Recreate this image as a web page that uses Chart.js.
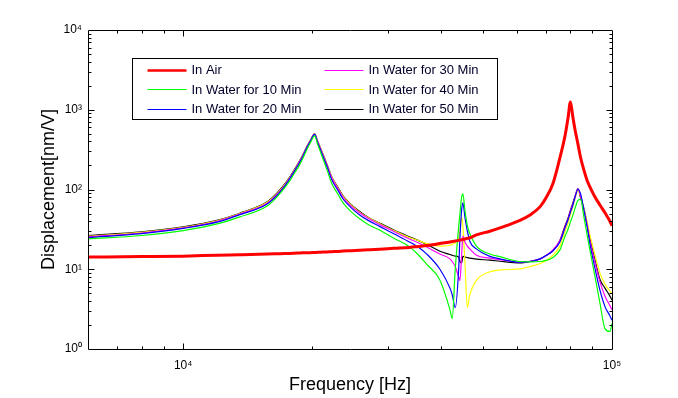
<!DOCTYPE html>
<html><head><meta charset="utf-8">
<script src="https://cdn.jsdelivr.net/npm/chart.js@4.4.0/dist/chart.umd.min.js"></script>
<style>html,body{margin:0;padding:0;background:#fff;}#wrap{width:678px;height:398px;}</style>
</head><body><div id="wrap"><canvas id="c" width="678" height="398"></canvas></div>
<script>
const freq = [6000, 8000, 10000, 12000, 13500, 15700, 16600, 17200, 17700, 18200,
  18700, 19000, 19400, 19800, 20250, 20600, 21200, 21700, 22200, 23000,
  23600, 24700, 25800, 27000, 28700, 31000, 33700, 35300, 37000, 39700,
  41900, 42400, 43100, 43900, 44200, 44600, 44900, 45400, 46000, 46600,
  48300, 51900, 54800, 61000, 64400, 68000, 70400, 72800, 75600, 77700,
  79000, 80000, 81000, 82000, 83300, 84500, 86000, 87500, 88800, 91000,
  93700, 96300, 98900, 100000];

const inAir = [14.2, 14.4, 14.6, 15.0, 15.2, 15.5, 15.65, 15.75, 15.8, 15.9,
  16.0, 16.05, 16.1, 16.15, 16.2, 16.3, 16.4, 16.5, 16.6, 16.75,
  16.9, 17.1, 17.3, 17.5, 17.8, 18.3, 18.8, 19.3, 19.8, 21.0,
  22.0, 22.3, 22.6, 23.0, 23.2, 23.4, 23.6, 24.0, 24.4, 24.8,
  27, 30, 33, 41, 48, 61, 81, 118, 250, 470,
  800, 1250, 830, 560, 370, 250, 175, 130, 108, 83,
  64, 51, 40, 35];

const water10 = [24, 26.5, 30.5, 37, 45, 62, 82, 103, 127, 162,
  205, 243, 310, 385, 470, 365, 240, 170, 120, 86,
  68, 52, 43, 36.5, 31, 24.5, 19.2, 15.3, 11.5, 7.3,
  3.1, 2.4, 10, 34, 50, 80, 88, 55, 35, 28,
  19.5, 15.5, 14.4, 12.5, 12.4, 12.5, 13, 14, 17.5, 26,
  32, 39, 47, 58, 73, 75, 45, 27, 17.5, 8.8,
  3.8, 1.8, 1.65, 2.1];

const water20 = [25, 28, 32.5, 39, 48, 66, 86, 108, 135, 171,
  220, 258, 330, 403, 490, 385, 260, 187, 133, 96,
  76, 58.5, 48, 41, 34.5, 27.8, 22, 19, 15.5, 10,
  5.8, 4.8, 3.3, 10, 25, 55, 68, 45, 30, 22.5,
  18, 14.5, 13.5, 12.3, 12.5, 13.5, 15, 17, 22, 33,
  42, 52, 63, 80, 100, 88, 55, 34, 21, 11,
  5.5, 3.4, 2.6, 2.3];

const water30 = [25.5, 28.5, 33, 40, 49, 67, 88, 110, 138, 174,
  225, 263, 335, 408, 495, 394, 268, 194, 140, 101,
  80, 61.5, 51, 43.5, 36.5, 29.8, 24, 21.5, 19, 15.5,
  13.5, 12.5, 10.8, 8, 7.2, 15, 26, 22, 19.5, 18,
  15, 13.8, 13.2, 12.3, 12.6, 13.5, 15, 17.5, 23, 34,
  43, 54, 65, 82, 102, 82, 55, 36, 23, 13,
  7, 4.6, 3.5, 3.1];

const water40 = [26, 29, 33.5, 40.5, 49.5, 69, 90, 113, 140, 177,
  228, 267, 338, 412, 498, 398, 272, 197, 143, 103,
  82, 63, 52, 44.5, 37.5, 30.5, 25, 23, 21, 19.5,
  20, 20.5, 21.5, 25, 30, 45, 35, 12, 3.3, 4.8,
  7.3, 9.3, 9.8, 10.1, 10.8, 11.8, 13, 15, 19.5, 30,
  38, 49, 60, 77, 97, 82, 57, 39, 27, 16,
  9, 6.5, 5.3, 4.9];

const water50 = [26.5, 29.5, 34, 41, 50, 70, 92, 115, 142, 180,
  230, 270, 340, 415, 500, 400, 275, 200, 145, 105,
  83, 64, 53, 45, 38, 31, 25.5, 23, 20.5, 16.8,
  15.3, 15, 14.6, 14.2, 12.5, 12, 14.5, 14.3, 14, 13.8,
  13.4, 13, 12.6, 12, 12.5, 13.5, 15, 17, 23, 35,
  44, 55, 67, 82, 103, 78, 58, 37, 24.6, 14,
  7.5, 5.8, 4.6, 4.1];

const seriesNames = ['In Air', 'In Water for 10 Min', 'In Water for 20 Min',
  'In Water for 30 Min', 'In Water for 40 Min', 'In Water for 50 Min'];
const xTickValues = [10000, 100000];
const yTickValues = [1, 10, 100, 1000, 10000];
const xAxisTitle = 'Frequency [Hz]';
const yAxisTitle = 'Displacement[nm/V]';

const seriesValues = [inAir, water10, water20, water30, water40, water50];
const seriesColors = ['#ff0000', '#00ff00', '#0000ff', '#ff00ff', '#ffff00', '#000000'];
const seriesWidths = [3, 1.2, 1.2, 1.2, 1.2, 1.2];

const FONT = "'Liberation Sans', Arial, sans-serif";
const SUP = {'0':'\u2070','1':'\u00b9','2':'\u00b2','3':'\u00b3','4':'\u2074','5':'\u2075'};
function powLabel(v) {
  const e = Math.round(Math.log10(v));
  return '10' + String(e).split('').map(c => SUP[c] || c).join('');
}

const datasets = seriesNames.map((name, i) => ({
  label: name,
  data: freq.map((f, j) => ({x: f, y: seriesValues[i][j]})),
  borderColor: seriesColors[i],
  backgroundColor: seriesColors[i],
  borderWidth: seriesWidths[i],
  pointRadius: 0,
  fill: false,
  cubicInterpolationMode: 'monotone'
}));

const frameTicks = {
  id: 'frameTicks',
  afterDatasetsDraw(chart) {
    const {ctx, chartArea: a, scales: {x, y}} = chart;
    ctx.save();
    ctx.strokeStyle = '#000';
    ctx.lineWidth = 1;
    const L = Math.round(a.left) + 0.5, R = Math.round(a.right) + 0.5;
    const T = Math.round(a.top) + 0.5, B = Math.round(a.bottom) + 0.5;
    ctx.beginPath();
    ctx.rect(L, T, R - L, B - T);
    for (let e = 3; e <= 4; e++) for (let m = 1; m <= 9; m++) {
      const v = m * Math.pow(10, e);
      if (v <= x.min || v >= x.max) continue;
      const px = Math.round(x.getPixelForValue(v)) + 0.5;
      const len = m === 1 ? 6 : 3;
      ctx.moveTo(px, B); ctx.lineTo(px, B - len);
      ctx.moveTo(px, T); ctx.lineTo(px, T + len);
    }
    for (let e = 0; e <= 3; e++) for (let m = 1; m <= 9; m++) {
      const v = m * Math.pow(10, e);
      if (v <= y.min || v >= y.max) continue;
      const py = Math.round(y.getPixelForValue(v)) + 0.5;
      const len = m === 1 ? 6 : 3;
      ctx.moveTo(L, py); ctx.lineTo(L + len, py);
      ctx.moveTo(R, py); ctx.lineTo(R - len, py);
    }
    ctx.stroke();
    ctx.restore();
  }
};

const boxLegend = {
  id: 'boxLegend',
  afterDraw(chart) {
    const {ctx, chartArea: a} = chart;
    const bx = Math.round(a.left + 44) + 0.5, by = Math.round(a.top + 28) + 0.5;
    const bw = 365, bh = 61;
    ctx.save();
    ctx.fillStyle = '#fff';
    ctx.fillRect(bx, by, bw, bh);
    ctx.strokeStyle = '#000';
    ctx.lineWidth = 1;
    ctx.strokeRect(bx, by, bw, bh);
    const rows = [11, 30.5, 50];
    const cols = [15, 192];
    ctx.font = '13px ' + FONT;
    ctx.textBaseline = 'middle';
    ctx.textAlign = 'left';
    chart.data.datasets.forEach((ds, i) => {
      const c = Math.floor(i / 3), r = i % 3;
      const x0 = bx + cols[c], yy = by + rows[r];
      ctx.strokeStyle = ds.borderColor;
      ctx.lineWidth = ds.borderWidth > 2 ? 2.5 : 1;
      ctx.beginPath();
      ctx.moveTo(x0, Math.round(yy) + 0.5);
      ctx.lineTo(x0 + 39, Math.round(yy) + 0.5);
      ctx.stroke();
      ctx.fillStyle = '#00002a';
      ctx.fillText(ds.label, x0 + 44, yy + 1);
    });
    ctx.restore();
  }
};

new Chart(document.getElementById('c'), {
  type: 'line',
  data: {datasets},
  options: {
    responsive: false,
    animation: false,
    devicePixelRatio: 1,
    layout: {padding: {left: 0, top: 30, right: 66, bottom: 0}},
    plugins: {legend: {display: false}, tooltip: {enabled: false}},
    scales: {
      x: {
        type: 'logarithmic',
        min: 6000, max: 100000,
        grid: {display: false, drawTicks: false},
        border: {display: false},
        afterFit(s) { s.height = 49; },
        afterBuildTicks(s) { s.ticks = xTickValues.map(v => ({value: v})); },
        ticks: {
          autoSkip: false, maxRotation: 0, padding: 9,
          color: '#000', font: {family: FONT, size: 12},
          callback: v => powLabel(v)
        },
        title: {display: true, text: xAxisTitle, color: '#000',
          font: {family: FONT, size: 18}, padding: {top: 0, bottom: 2}}
      },
      y: {
        type: 'logarithmic',
        min: 1, max: 10000,
        grid: {display: false, drawTicks: false},
        border: {display: false},
        afterFit(s) { s.width = 88; },
        afterBuildTicks(s) { s.ticks = yTickValues.map(v => ({value: v})); },
        ticks: {
          autoSkip: false, padding: 6,
          color: '#000', font: {family: FONT, size: 12},
          callback: v => powLabel(v)
        },
        title: {display: true, text: yAxisTitle, color: '#000',
          font: {family: FONT, size: 18}, padding: {top: 38, bottom: 0}}
      }
    }
  },
  plugins: [frameTicks, boxLegend]
});
</script>
</body></html>
